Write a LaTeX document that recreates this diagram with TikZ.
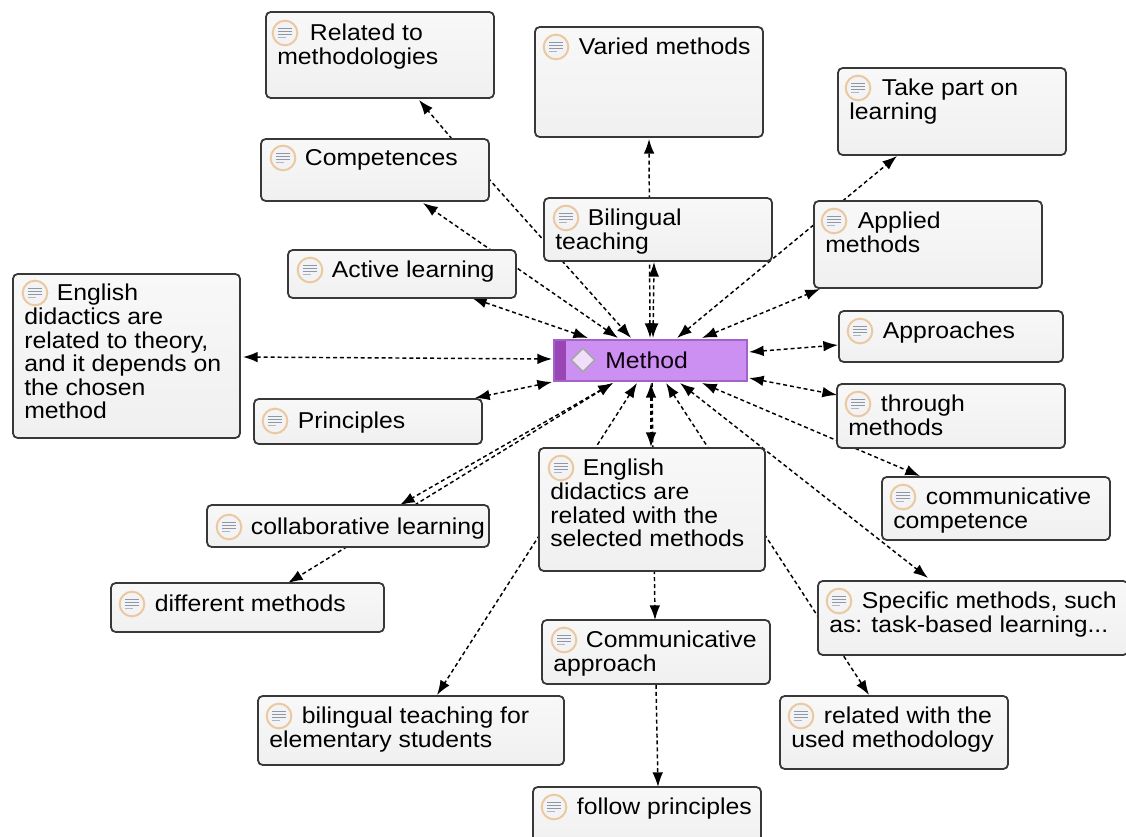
\documentclass[tikz,border=0pt]{standalone}
\usepackage{fontspec}
\setmainfont[FakeStretch=1.08]{Liberation Sans}
\usetikzlibrary{shapes.geometric,arrows.meta,calc,backgrounds}
\definecolor{cardtop}{HTML}{F8F8F8}
\definecolor{cardbot}{HTML}{F0F0F0}
\definecolor{ring}{HTML}{EBC9A0}
\definecolor{iconfill}{HTML}{F3F3F5}
\definecolor{iconline}{HTML}{8E97A5}
\definecolor{methfill}{HTML}{CC90F2}
\definecolor{methstripe}{HTML}{9A45B5}
\definecolor{methedge}{HTML}{A462C8}
\tikzset{
  x=0.75pt,y=-0.75pt,
  cardbox/.style={draw=black!78,line width=1.35pt,rounded corners=3.5pt,top color=cardtop,bottom color=cardbot,inner sep=0pt,outer sep=0pt,anchor=north west},
  cardtext/.style={anchor=north west,align=left,inner sep=0pt,font=\fontsize{17.2}{17.7}\selectfont,text=black},
  noteicon/.style={circle,draw=ring,line width=1.5pt,fill=iconfill,minimum size=18.5pt,inner sep=0pt},
  lnk/.style={dash pattern=on 3pt off 2.2pt,line width=1.1pt,black},
  both/.style={lnk,{Latex[length=11pt,width=8pt]}-{Latex[length=11pt,width=8pt]}},
  tohead/.style={lnk,-{Latex[length=11pt,width=8pt]}},
}
% name, x0,y0,x1,y1, icon x, icon y, text with first-line gap
\newcommand{\card}[8]{%
  \pgfmathsetmacro{\cw}{(#4-#2)*0.75}\pgfmathsetmacro{\ch}{(#5-#3)*0.75}%
  \node[cardbox,minimum width=\cw pt,minimum height=\ch pt] (#1) at (#2,#3) {};%
  \node[noteicon] (#1i) at (#6,#7) {};%
  \foreach \dy in {-1,1.2,3.4}{\draw[iconline,line width=1pt] ([xshift=-5.2pt,yshift=\dy pt]#1i.center) -- ([xshift=5.2pt,yshift=\dy pt]#1i.center);}%
  \draw[iconline!70,line width=0.8pt] ([xshift=-5.2pt,yshift=-3.3pt]#1i.center) -- ([xshift=1pt,yshift=-3.3pt]#1i.center);%
  \node[cardtext] (#1t) at (#2+11,#7-9) {\hspace*{24.5pt}#8};%
}
% style, node A, offset from its corner, node B, offset from its corner
\newcommand{\link}[7]{\draw[#1] ($(#2.north west)+(#3,#4)$) -- ($(#5.north west)+(#6,#7)$);}
\begin{document}
\begin{tikzpicture}
\useasboundingbox (0,0) rectangle (1126,837);
\begin{pgfonlayer}{background}
\fill[white] (0,0) rectangle (1126,837);
\end{pgfonlayer}
% ---- cards
\card{rel}{266}{12}{494}{98}{285}{33}{Related to\\methodologies}
\card{var}{535}{27}{763}{137}{556}{47}{Varied methods}
\card{take}{838}{68}{1066}{155}{858}{88}{Take part on\\learning}
\card{comp}{261}{139}{489}{201}{283}{158}{Competences}
\card{bil}{544}{198}{772}{261}{566}{218}{Bilingual\\teaching}
\card{appl}{814}{201}{1042}{288}{834}{221}{Applied\\methods}
\card{act}{288}{250}{516}{298}{310}{270}{Active learning}
\card{engl}{13}{274}{240}{438}{35}{293}{English\\didactics are\\related to theory,\\and it depends on\\the chosen\\method}
\card{appr}{839}{311}{1063}{362}{860}{331}{Approaches}
\card{thr}{837}{384}{1065}{448}{858}{404}{through\\methods}
\card{prin}{254}{399}{482}{444}{275}{421}{Principles}
\card{engs}{539}{448}{765}{571}{561}{468}{English\\didactics are\\related with the\\selected methods}
\card{cc}{882}{477}{1110}{540}{903}{497}{communicative\\competence}
\card{coll}{207}{505}{489}{547}{229}{527}{collaborative learning}
\card{diff}{111}{583}{384}{632}{132}{604}{different methods}
\card{spec}{818}{581}{1128}{655}{839}{601}{Specific methods, such\\as: task-based learning...}
\card{ca}{542}{620}{770}{684}{564}{640}{Communicative\\approach}
\card{bt}{258}{696}{564}{765}{279}{716}{bilingual teaching for\\elementary students}
\card{relw}{780}{696}{1008}{769}{801}{716}{related with the\\used methodology}
\card{fol}{533}{787}{761}{845}{554}{807}{follow principles}
% ---- central node
\node[draw=methedge,line width=1pt,fill=methfill,minimum width=144.75pt,minimum height=30.75pt,anchor=north west,inner sep=0pt,outer sep=0pt] (method) at (554,340) {};
\fill[methstripe] (555,341) rectangle (566,380);
\node[diamond,draw=black!35,fill=white!70!methfill,line width=1.2pt,minimum size=18pt,inner sep=0pt] (mi) at (583,360) {};
\node[cardtext,anchor=west,text=black!90!violet] (mt) at (605,360) {Method};
% ---- connectors, behind every card
\begin{pgfonlayer}{background}
\link{tohead}{comp}{191}{0}{rel}{153}{88}
\link{both}{method}{96}{-2}{var}{114}{112}
\link{both}{method}{123}{-2}{take}{59}{88}
\link{both}{method}{148}{-2}{appl}{6}{88}
\link{both}{method}{195}{12}{appr}{-1}{34}
\link{both}{method}{195}{38}{thr}{0}{11}
\link{both}{method}{148}{43}{cc}{38}{-1}
\link{both}{method}{126}{43}{spec}{110}{-3}
\link{both}{method}{112}{43}{relw}{89}{-1}
\link{both}{method}{97}{43}{engs}{112}{-1}
\link{both}{method}{83}{43}{bt}{179}{-1}
\link{both}{method}{59}{43}{coll}{193}{0}
\link{both}{method}{59}{43}{diff}{177}{0}
\link{both}{method}{-2}{42}{prin}{221}{-1}
\link{both}{method}{-2}{19}{engl}{230}{83}
\link{both}{method}{34}{-2}{act}{184}{48}
\link{both}{method}{64}{-2}{comp}{162}{64}
\link{tohead}{comp}{227}{39}{method}{77}{-2}
\link{both}{method}{99}{-2}{bil}{110}{64}
\link{tohead}{method}{98}{43}{ca}{113}{0}
\link{tohead}{ca}{114}{65}{fol}{125}{0}
\end{pgfonlayer}
\end{tikzpicture}
\end{document}
